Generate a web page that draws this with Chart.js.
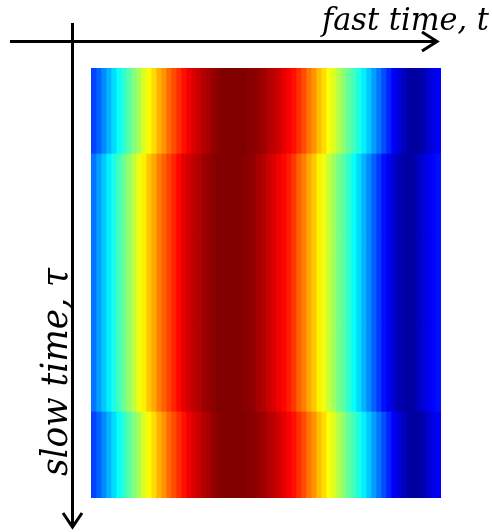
<!DOCTYPE html>
<html>
<head>
<meta charset="utf-8">
<script src="https://cdn.jsdelivr.net/npm/chart.js@4"></script>
<style>
  body { margin: 0; background: #fff; }
  canvas { display: block; }
</style>
</head>
<body>
<canvas id="heat" width="492" height="532"></canvas>
<script>
// slow-time rows (top to bottom)
const slowTimeRows = ['τ1', 'τ2', 'τ3', 'τ4', 'τ5'];

// intensity across fast time, 70 range bins (0..1, jet colormap)
const profileA = [0.19, 0.22, 0.26, 0.30, 0.34, 0.38, 0.42, 0.46, 0.50, 0.54,
  0.59, 0.63, 0.66, 0.70, 0.73, 0.77, 0.80, 0.83, 0.86, 0.89,
  0.91, 0.93, 0.95, 0.96, 0.98, 0.99, 1.0, 1.0, 1.0, 1.0,
  1.0, 0.99, 0.99, 0.98, 0.97, 0.95, 0.94, 0.92, 0.90, 0.88,
  0.86, 0.83, 0.80, 0.76, 0.73, 0.69, 0.66, 0.62, 0.59, 0.55,
  0.51, 0.47, 0.44, 0.40, 0.36, 0.32, 0.28, 0.24, 0.20, 0.16,
  0.12, 0.09, 0.06, 0.04, 0.03, 0.03, 0.05, 0.08, 0.10, 0.12]

const profileB = [0.24, 0.28, 0.32, 0.36, 0.40, 0.44, 0.48, 0.52, 0.56, 0.61,
  0.64, 0.68, 0.71, 0.75, 0.78, 0.81, 0.84, 0.87, 0.90, 0.92,
  0.94, 0.95, 0.97, 0.98, 0.99, 1.0, 1.0, 1.0, 1.0, 1.0,
  0.99, 0.99, 0.98, 0.96, 0.95, 0.93, 0.91, 0.89, 0.87, 0.85,
  0.82, 0.78, 0.75, 0.71, 0.68, 0.64, 0.61, 0.57, 0.53, 0.49,
  0.46, 0.42, 0.38, 0.34, 0.30, 0.26, 0.22, 0.18, 0.14, 0.11,
  0.08, 0.05, 0.04, 0.03, 0.04, 0.06, 0.09, 0.11, 0.13, 0.14]

const intensity = [profileA, profileB, profileB, profileB, profileA]

function jet(v) {
  const c = x => Math.round(255 * Math.max(0, Math.min(1, x)))
  const r = c(1.5 - Math.abs(4 * v - 3))
  const g = c(1.5 - Math.abs(4 * v - 2))
  const b = c(1.5 - Math.abs(4 * v - 1))
  return 'rgb(' + r + ',' + g + ',' + b + ')'
}

// each fast-time bin is one stacked dataset, one unit wide
const datasets = []
for (var i = 0; i < profileA.length; i++) {
  datasets.push({
    data: slowTimeRows.map(() => 1),
    backgroundColor: intensity.map(row => jet(row[i])),
    borderWidth: 0,
    barPercentage: 1,
    categoryPercentage: 1
  })
}

const axesArrows = {
  id: 'axesArrows',
  afterDraw(chart) {
    const ctx = chart.ctx
    ctx.save()
    ctx.strokeStyle = '#000'
    ctx.lineWidth = 3
    ctx.lineCap = 'butt'

    // fast time axis
    ctx.beginPath()
    ctx.moveTo(10, 41.5)
    ctx.lineTo(436, 41.5)
    ctx.stroke()
    ctx.beginPath()
    ctx.moveTo(422, 32)
    ctx.lineTo(437, 41.5)
    ctx.lineTo(422, 51)
    ctx.stroke()

    // slow time axis
    ctx.beginPath()
    ctx.moveTo(72.5, 23)
    ctx.lineTo(72.5, 526)
    ctx.stroke()
    ctx.beginPath()
    ctx.moveTo(63, 513)
    ctx.lineTo(72.5, 527)
    ctx.lineTo(82, 513)
    ctx.stroke()

    ctx.fillStyle = '#000'
    ctx.textBaseline = 'alphabetic'

    ctx.font = 'italic 31px "DejaVu Serif"'
    let txt = 'fast time, t'
    let w = ctx.measureText(txt).width
    ctx.save()
    ctx.translate(322, 30)
    ctx.scale(167 / w, 1)
    ctx.fillText(txt, 0, 0)
    ctx.restore()

    ctx.font = 'italic 38px "DejaVu Serif"'
    txt = 'slow time, τ'
    w = ctx.measureText(txt).width
    ctx.save()
    ctx.translate(67, 476)
    ctx.rotate(-Math.PI / 2)
    ctx.scale(208 / w, 1)
    ctx.fillText(txt, 0, 0)
    ctx.restore()

    ctx.restore()
  }
}

new Chart(document.getElementById('heat'), {
  type: 'bar',
  data: {
    labels: slowTimeRows,
    datasets: datasets
  },
  options: {
    indexAxis: 'y',
    responsive: false,
    animation: false,
    layout: {
      padding: {left: 91, right: 51, top: 68, bottom: 34}
    },
    scales: {
      x: {stacked: true, min: 0, max: profileA.length, display: false},
      y: {stacked: true, display: false}
    },
    plugins: {
      legend: {display: false},
      tooltip: {enabled: false}
    }
  },
  plugins: [axesArrows]
});
</script>
</body>
</html>
